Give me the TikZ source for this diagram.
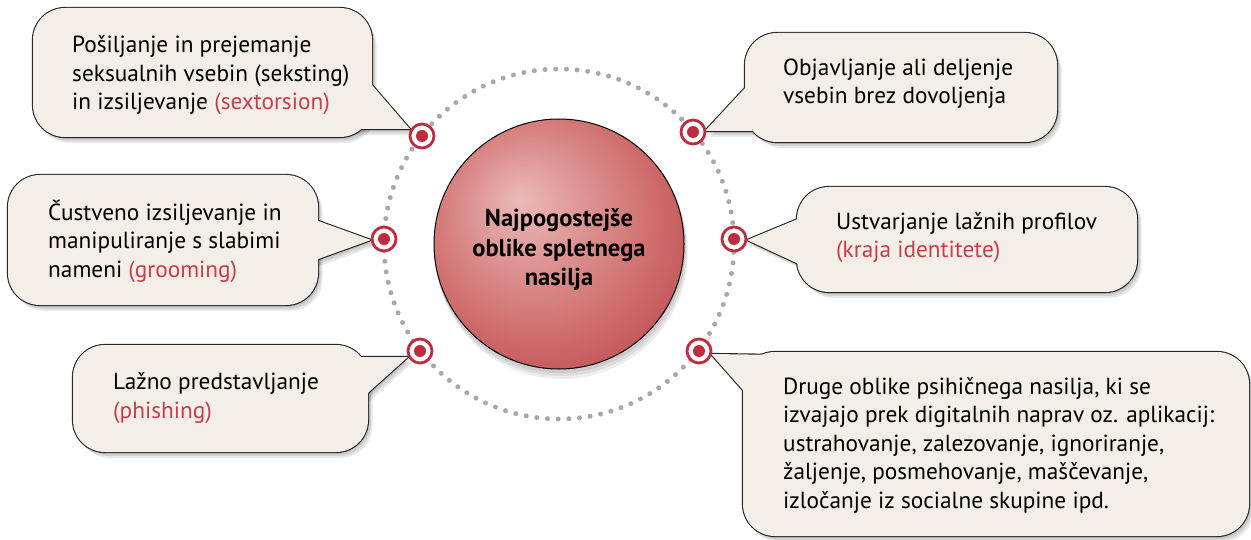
\documentclass[tikz,border=0pt]{standalone}
\usepackage{fontspec}
\setmainfont{PT Sans}
\usetikzlibrary{calc}
\definecolor{boxfill}{RGB}{243,239,232}
\definecolor{accent}{RGB}{198,62,78}
\definecolor{markred}{RGB}{190,45,62}
\definecolor{dotg}{RGB}{168,168,168}
\definecolor{ballhi}{RGB}{236,186,184}
\definecolor{ballmid}{RGB}{220,146,144}
\definecolor{ballbase}{RGB}{205,104,104}
\definecolor{balledge}{RGB}{192,82,84}
\pgfdeclareradialshading{ballsh}{\pgfpoint{-8bp}{9bp}}{color(0bp)=(ballhi); color(12bp)=(ballmid); color(25bp)=(ballbase); color(33bp)=(balledge); color(50bp)=(balledge)}
\newcommand\callout[5]{%
  \foreach \s in {1.5,3,4.5}{%
    \fill[black,opacity=0.09,xshift=\s pt,yshift=-1.3*\s pt,rounded corners=32pt] #1 rectangle #2;
    \fill[black,opacity=0.09,xshift=\s pt,yshift=-1.3*\s pt] #3 -- #4 -- #5 -- cycle;}
  \draw[line width=2.2pt,black!85,rounded corners=32pt] #1 rectangle #2;
  \draw[line width=2.2pt,black!85] #3 -- #4 -- #5 -- cycle;
  \fill[boxfill,rounded corners=32pt] #1 rectangle #2;
  \fill[boxfill] #3 -- #4 -- #5 -- cycle;
}
\tikzset{
  marker/.style={circle,draw=markred,line width=2.8pt,fill=white,minimum size=24pt,inner sep=0pt,
    path picture={\fill[markred] (path picture bounding box.center) circle (6pt);}},
  btext/.style={anchor=base west,align=left,inner sep=0pt,font=\fontsize{23.3}{28.5}\selectfont},
  hubtext/.style={align=center,inner sep=0pt,font=\bfseries\fontsize{24.5}{29.5}\selectfont}
}
\begin{document}
\begin{tikzpicture}[x=1pt,y=-1pt]
\useasboundingbox[fill=white] (0,0) rectangle (1251,540);
\coordinate (c) at (559,244);
% dotted ring
\draw[dotg,line width=5pt,line cap=round,dash pattern=on 0pt off 10.7pt] (c) circle (175pt);
% central ball shadow
\foreach \s in {3,6,9}{\fill[black,opacity=0.07] ($(c)+(\s*0.3,\s)$) circle (126pt);}
\node[circle,minimum size=250pt,inner sep=0pt,shading=ballsh,draw=black,line width=1pt] (hub) at (c) {};
\node[hubtext] (hubt) at (559,250) {Najpogostejše\\oblike spletnega\\nasilja};
% callouts
\callout{(33,8)}{(372,137)}{(372,85)}{(410,129)}{(345,129)}
\callout{(745,33)}{(1057,142)}{(745,88)}{(705,131)}{(765,131)}
\callout{(8,175)}{(318,305)}{(310,218)}{(371,240)}{(310,262)}
\callout{(73,345)}{(368,452)}{(350,357)}{(408,357)}{(360,400)}
\callout{(797,187)}{(1137,292)}{(805,216)}{(747,240)}{(805,267)}
\callout{(743,352)}{(1249,536)}{(785,355)}{(711,354)}{(750,398)}
% markers
\node[marker] (m1) at (422,136) {};
\node[marker] (m2) at (693,132) {};
\node[marker] (m3) at (384,239) {};
\node[marker] (m4) at (734,239) {};
\node[marker] (m5) at (420,351) {};
\node[marker] (m6) at (699,351) {};
% texts (anchored at the baseline of the last line)
\node[btext] (t1) at (72,110) {Pošiljanje in prejemanje\\seksualnih vsebin (seksting)\\in izsiljevanje \textcolor{accent}{(sextorsion)}};
\node[btext] (t2) at (783,104) {Objavljanje ali deljenje\\vsebin brez dovoljenja};
\node[btext] (t3) at (48,277) {Čustveno izsiljevanje in\\manipuliranje s slabimi\\nameni \textcolor{accent}{(grooming)}};
\node[btext] (t4) at (113,418) {Lažno predstavljanje\\\textcolor{accent}{(phishing)}};
\node[btext] (t5) at (836,258) {Ustvarjanje lažnih profilov\\\textcolor{accent}{(kraja identitete)}};
\node[btext] (t6) at (783,508) {Druge oblike psihičnega nasilja, ki se\\izvajajo prek digitalnih naprav oz. aplikacij:\\ustrahovanje, zalezovanje, ignoriranje,\\žaljenje, posmehovanje, maščevanje,\\izločanje iz socialne skupine ipd.};
\end{tikzpicture}
\end{document}
